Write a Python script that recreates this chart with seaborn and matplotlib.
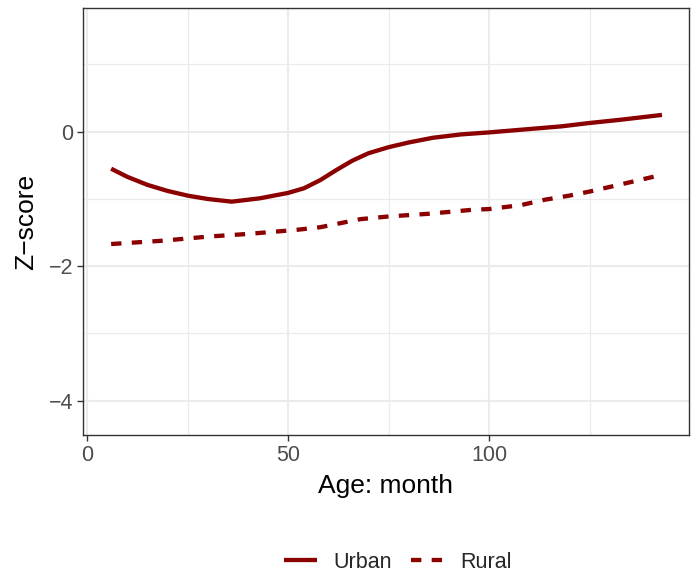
import numpy as np
import pandas as pd
import seaborn as sns
import matplotlib
matplotlib.use("Agg")
import matplotlib.pyplot as plt
from matplotlib.lines import Line2D
from matplotlib.ticker import FixedLocator

# ---- data ----
urban_month = [6, 10, 15, 20, 25, 30, 36, 43, 50, 54, 58, 62, 66, 70, 75, 80, 86, 93, 100, 110, 118, 125, 133, 143]
urban_z = [-0.55, -0.67, -0.79, -0.88, -0.95, -1.00, -1.04, -0.99, -0.91, -0.84, -0.72, -0.57, -0.43, -0.32,
           -0.23, -0.16, -0.09, -0.04, -0.01, 0.04, 0.08, 0.13, 0.18, 0.25]
rural_month = [6, 19, 30, 40, 52, 58, 63, 68, 75, 85, 96, 100, 108, 114, 120, 125, 133, 143]
rural_z = [-1.67, -1.62, -1.56, -1.52, -1.46, -1.42, -1.36, -1.30, -1.26, -1.22, -1.16, -1.15, -1.09,
           -1.01, -0.95, -0.89, -0.78, -0.64]
groups = ["Urban", "Rural"]
x_ticks = [0, 50, 100]
y_ticks = [-4, -2, 0]

df = pd.DataFrame({
    "month": urban_month + rural_month,
    "z": urban_z + rural_z,
    "area": ["Urban"] * len(urban_month) + ["Rural"] * len(rural_month),
})

sns.set_theme(style="white")
plt.rcParams["font.family"] = ["Liberation Sans", "DejaVu Sans"]
plt.rcParams["axes.unicode_minus"] = True

color = "#8B0000"
lw = 3.1
dash_pat = (2.4, 2.4)

fig = plt.figure(figsize=(6.96, 5.76), dpi=100)
ax = fig.add_axes([83 / 696, 1 - 435 / 576, (688.5 - 83) / 696, (435 - 8) / 576])

sns.lineplot(data=df, x="month", y="z", style="area", style_order=groups,
             dashes={"Urban": "", "Rural": dash_pat}, color=color, linewidth=lw,
             ax=ax, legend=False, sort=True, estimator=None)
for ln in ax.get_lines():
    ln.set_dash_capstyle("butt")
    ln.set_solid_capstyle("butt")
    ln.set_solid_joinstyle("round")

ax.set_xlim(-1, 149.6)
ax.set_ylim(-4.51, 1.84)
ax.xaxis.set_major_locator(FixedLocator(x_ticks))
ax.yaxis.set_major_locator(FixedLocator(y_ticks))
ax.xaxis.set_minor_locator(FixedLocator([25, 75, 125]))
ax.yaxis.set_minor_locator(FixedLocator([-3, -1, 1]))
ax.grid(True, which="major", color="#EBEBEB", linewidth=1.5)
ax.grid(True, which="minor", color="#EBEBEB", linewidth=0.9)
ax.set_axisbelow(True)

for s in ax.spines.values():
    s.set_color("#333333")
    s.set_linewidth(1.0)

ax.tick_params(axis="both", which="major", length=4, width=1.0, color="#333333",
               labelsize=15.5, labelcolor="#4D4D4D", pad=3, left=True, bottom=True)
ax.tick_params(axis="both", which="minor", length=0)

ax.set_xlabel("Age: month", fontsize=19, color="black", labelpad=6)
ax.set_ylabel("Z\u2212score", fontsize=19, color="black", labelpad=8)

handles = [
    Line2D([], [], color=color, linewidth=lw, solid_capstyle="butt"),
    Line2D([], [], color=color, linewidth=lw, dashes=dash_pat, dash_capstyle="butt"),
]
fig.legend(handles, groups, loc="center", bbox_to_anchor=(398 / 696, 1 - 562 / 576),
           ncol=2, frameon=False, fontsize=15.5, handlelength=1.55, handletextpad=0.75,
           columnspacing=0.9, borderpad=0)

fig.savefig("out.png", dpi=100)
